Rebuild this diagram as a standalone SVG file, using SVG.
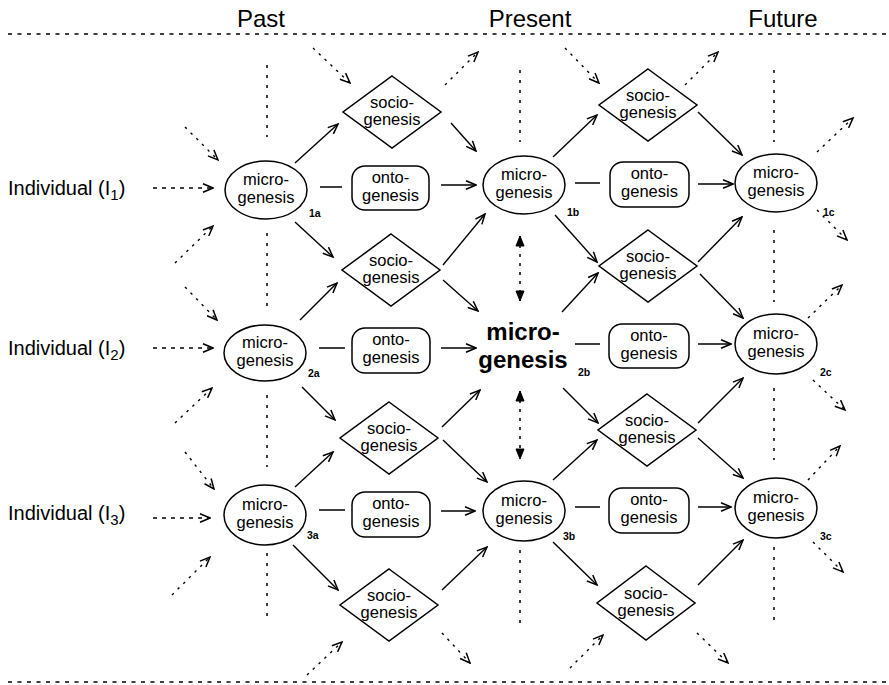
<svg xmlns="http://www.w3.org/2000/svg" width="889" height="685" viewBox="0 0 889 685">
<style>
text{font-family:"Liberation Sans",Arial,sans-serif;fill:#000}
.t{font-size:16.5px;text-anchor:middle}
.h{font-size:24px;text-anchor:middle}
.ind{font-size:20px}
.sub{font-size:10.5px;font-weight:bold}
.big{font-size:24px;font-weight:bold;text-anchor:middle}
.shape{fill:#fff;stroke:#000;stroke-width:1.5}
.s{fill:none;stroke:#000;stroke-width:1.4}
.a{fill:none;stroke:#000;stroke-width:1.4;marker-end:url(#ah)}
.d{fill:none;stroke:#000;stroke-width:1.4;stroke-dasharray:2.5 5.5;marker-end:url(#ah)}
.di{fill:none;stroke:#000;stroke-width:1.4;stroke-dasharray:4 5;marker-end:url(#ah)}
.v{fill:none;stroke:#000;stroke-width:1.5;stroke-dasharray:3 7}
.vv{fill:none;stroke:#000;stroke-width:1.5;stroke-dasharray:3 6;marker-end:url(#ahf);marker-start:url(#ahf)}
.hz{fill:none;stroke:#000;stroke-width:1.5;stroke-dasharray:4 5.5}
</style>
<defs>
<marker id="ah" viewBox="0 0 12 10" refX="11" refY="5" markerWidth="12" markerHeight="10" orient="auto" markerUnits="userSpaceOnUse">
<path d="M1,0.8 L11,5 L1,9.2" fill="none" stroke="#000" stroke-width="1.5" stroke-dasharray="none"/>
</marker>
<marker id="ahf" viewBox="0 0 12 10" refX="11" refY="5" markerWidth="12" markerHeight="10" orient="auto-start-reverse" markerUnits="userSpaceOnUse">
<path d="M1,1 L11,5 L1,9 Z" fill="#000" stroke="#000" stroke-width="1" stroke-dasharray="none"/>
</marker>
</defs>

<g id="frame">
<line class="hz" x1="8" y1="34" x2="889" y2="34"/>
<line class="hz" x1="8" y1="682" x2="889" y2="682"/>
<text class="h" x="261" y="27">Past</text>
<text class="h" x="530" y="27">Present</text>
<text class="h" x="783" y="27">Future</text>
</g>

<g id="individuals">
<text class="ind" x="8" y="195">Individual (I<tspan font-size="15" dy="5">1</tspan><tspan dy="-5">)</tspan></text>
<text class="ind" x="8" y="355">Individual (I<tspan font-size="15" dy="5">2</tspan><tspan dy="-5">)</tspan></text>
<text class="ind" x="8" y="520">Individual (I<tspan font-size="15" dy="5">3</tspan><tspan dy="-5">)</tspan></text>
</g>

<g id="connectors">
<path class="v" d="M267,65 V137 M267,233 V307 M267,395 V467 M267,553 V623"/>
<path class="v" d="M520,70 V142 M520,550 V623"/>
<path class="v" d="M774,70 V142 M774,230 V302 M774,388 V460 M774,547 V620"/>
<line class="vv" x1="520" y1="236" x2="520" y2="301"/>
<line class="vv" x1="520" y1="391" x2="520" y2="459"/>
<path class="s" d="M320,187 H342 M575,183 H600 M319,348 H345 M575,344 H600 M319,510 H345 M575,507 H600"/>
<line class="a" x1="295" y1="163" x2="338" y2="124"/>
<line class="a" x1="295" y1="222" x2="333" y2="257"/>
<line class="a" x1="441" y1="185" x2="476" y2="185"/>
<line class="a" x1="451" y1="123" x2="476" y2="151"/>
<line class="a" x1="553" y1="157" x2="597" y2="115"/>
<line class="a" x1="555" y1="215" x2="597" y2="262"/>
<line class="a" x1="698" y1="112" x2="742" y2="155"/>
<line class="a" x1="698" y1="184" x2="733" y2="184"/>
<line class="a" x1="698" y1="262" x2="742" y2="217"/>
<line class="a" x1="300" y1="320" x2="337" y2="283"/>
<line class="a" x1="302" y1="387" x2="335" y2="420"/>
<line class="a" x1="441" y1="348" x2="476" y2="348"/>
<line class="a" x1="443" y1="265" x2="485" y2="214"/>
<line class="a" x1="443" y1="280" x2="478" y2="311"/>
<line class="a" x1="562" y1="312" x2="598" y2="273"/>
<line class="a" x1="563" y1="388" x2="598" y2="423"/>
<line class="a" x1="700" y1="274" x2="743" y2="318"/>
<line class="a" x1="698" y1="344" x2="731" y2="344"/>
<line class="a" x1="698" y1="423" x2="743" y2="378"/>
<line class="a" x1="442" y1="427" x2="480" y2="390"/>
<line class="a" x1="443" y1="440" x2="487" y2="482"/>
<line class="a" x1="553" y1="480" x2="597" y2="440"/>
<line class="a" x1="698" y1="438" x2="743" y2="478"/>
<line class="a" x1="295" y1="487" x2="333" y2="452"/>
<line class="a" x1="293" y1="545" x2="338" y2="590"/>
<line class="a" x1="441" y1="511" x2="475" y2="511"/>
<line class="a" x1="442" y1="590" x2="487" y2="547"/>
<line class="a" x1="553" y1="542" x2="597" y2="585"/>
<line class="a" x1="698" y1="507" x2="731" y2="507"/>
<line class="a" x1="698" y1="585" x2="743" y2="540"/>
<line class="di" x1="153" y1="188" x2="213" y2="188"/>
<line class="di" x1="153" y1="348" x2="213" y2="348"/>
<line class="di" x1="153" y1="518" x2="210" y2="518"/>
<line class="d" x1="185" y1="127" x2="218" y2="160"/>
<line class="d" x1="175" y1="263" x2="213" y2="226"/>
<line class="d" x1="185" y1="287" x2="217" y2="320"/>
<line class="d" x1="175" y1="423" x2="212" y2="388"/>
<line class="d" x1="185" y1="452" x2="214" y2="489"/>
<line class="d" x1="172" y1="595" x2="210" y2="557"/>
<line class="d" x1="313" y1="48" x2="350" y2="83"/>
<line class="d" x1="445" y1="85" x2="478" y2="52"/>
<line class="d" x1="565" y1="48" x2="599" y2="83"/>
<line class="d" x1="685" y1="85" x2="718" y2="52"/>
<line class="d" x1="817" y1="152" x2="853" y2="118"/>
<line class="d" x1="817" y1="210" x2="847" y2="240"/>
<line class="d" x1="808" y1="318" x2="842" y2="285"/>
<line class="d" x1="813" y1="380" x2="845" y2="410"/>
<line class="d" x1="808" y1="480" x2="840" y2="446"/>
<line class="d" x1="813" y1="542" x2="843" y2="572"/>
<line class="d" x1="307" y1="675" x2="342" y2="642"/>
<line class="d" x1="442" y1="633" x2="470" y2="663"/>
<line class="d" x1="570" y1="668" x2="603" y2="635"/>
<line class="d" x1="697" y1="633" x2="728" y2="663"/>
</g>

<g id="m1a"><ellipse class="shape" cx="266" cy="190" rx="41" ry="29"/><text class="t" x="266" y="185">micro-</text><text class="t" x="266" y="203">genesis</text><text class="sub" x="309" y="217">1a</text></g>
<g id="m1b"><ellipse class="shape" cx="524" cy="185" rx="41" ry="29"/><text class="t" x="524" y="180">micro-</text><text class="t" x="524" y="198">genesis</text><text class="sub" x="567" y="216">1b</text></g>
<g id="m1c"><ellipse class="shape" cx="776" cy="183" rx="41" ry="29"/><text class="t" x="776" y="178">micro-</text><text class="t" x="776" y="196">genesis</text><text class="sub" x="823" y="216">1c</text></g>
<g id="m2a"><ellipse class="shape" cx="265" cy="353" rx="41" ry="28"/><text class="t" x="265" y="348">micro-</text><text class="t" x="265" y="366">genesis</text><text class="sub" x="308" y="377">2a</text></g>
<g id="m2b"><text class="big" x="523" y="340">micro-</text><text class="big" x="523" y="368">genesis</text><text class="sub" x="578" y="376">2b</text></g>
<g id="m2c"><ellipse class="shape" cx="776" cy="344" rx="41" ry="30"/><text class="t" x="776" y="339">micro-</text><text class="t" x="776" y="357">genesis</text><text class="sub" x="820" y="376">2c</text></g>
<g id="m3a"><ellipse class="shape" cx="265" cy="515" rx="41" ry="30"/><text class="t" x="265" y="510">micro-</text><text class="t" x="265" y="528">genesis</text><text class="sub" x="307" y="539">3a</text></g>
<g id="m3b"><ellipse class="shape" cx="524" cy="511" rx="41" ry="30"/><text class="t" x="524" y="506">micro-</text><text class="t" x="524" y="524">genesis</text><text class="sub" x="563" y="540">3b</text></g>
<g id="m3c"><ellipse class="shape" cx="776" cy="508" rx="41" ry="30"/><text class="t" x="776" y="503">micro-</text><text class="t" x="776" y="521">genesis</text><text class="sub" x="820" y="540">3c</text></g>

<g id="o1L"><rect class="shape" x="352" y="166" width="77" height="44" rx="13"/><text class="t" x="390.5" y="183">onto-</text><text class="t" x="390.5" y="201">genesis</text></g>
<g id="o1R"><rect class="shape" x="610" y="162" width="79" height="45" rx="13"/><text class="t" x="649.5" y="179">onto-</text><text class="t" x="649.5" y="197">genesis</text></g>
<g id="o2L"><rect class="shape" x="352" y="328" width="78" height="45" rx="13"/><text class="t" x="391" y="345">onto-</text><text class="t" x="391" y="363">genesis</text></g>
<g id="o2R"><rect class="shape" x="609" y="324" width="80" height="44" rx="13"/><text class="t" x="649" y="341">onto-</text><text class="t" x="649" y="359">genesis</text></g>
<g id="o3L"><rect class="shape" x="352" y="492" width="78" height="45" rx="13"/><text class="t" x="391" y="509">onto-</text><text class="t" x="391" y="527">genesis</text></g>
<g id="o3R"><rect class="shape" x="609" y="488" width="80" height="45" rx="13"/><text class="t" x="649" y="505">onto-</text><text class="t" x="649" y="523">genesis</text></g>

<g id="s1L"><polygon class="shape" points="392,76 441,112 392,148 343,112"/><text class="t" x="392" y="108">socio-</text><text class="t" x="392" y="125">genesis</text></g>
<g id="s1R"><polygon class="shape" points="648,69 697,105 648,141 599,105"/><text class="t" x="648" y="101">socio-</text><text class="t" x="648" y="118">genesis</text></g>
<g id="s2L"><polygon class="shape" points="391,234 440,270 391,306 342,270"/><text class="t" x="391" y="266">socio-</text><text class="t" x="391" y="283">genesis</text></g>
<g id="s2R"><polygon class="shape" points="648,230 697,266 648,302 599,266"/><text class="t" x="648" y="262">socio-</text><text class="t" x="648" y="279">genesis</text></g>
<g id="s3L"><polygon class="shape" points="389,402 438,438 389,474 340,438"/><text class="t" x="389" y="434">socio-</text><text class="t" x="389" y="451">genesis</text></g>
<g id="s3R"><polygon class="shape" points="647,394 696,430 647,466 598,430"/><text class="t" x="647" y="426">socio-</text><text class="t" x="647" y="443">genesis</text></g>
<g id="s4L"><polygon class="shape" points="389,569 438,605 389,641 340,605"/><text class="t" x="389" y="601">socio-</text><text class="t" x="389" y="618">genesis</text></g>
<g id="s4R"><polygon class="shape" points="646,566 695,603 646,640 597,603"/><text class="t" x="646" y="599">socio-</text><text class="t" x="646" y="616">genesis</text></g>
</svg>
